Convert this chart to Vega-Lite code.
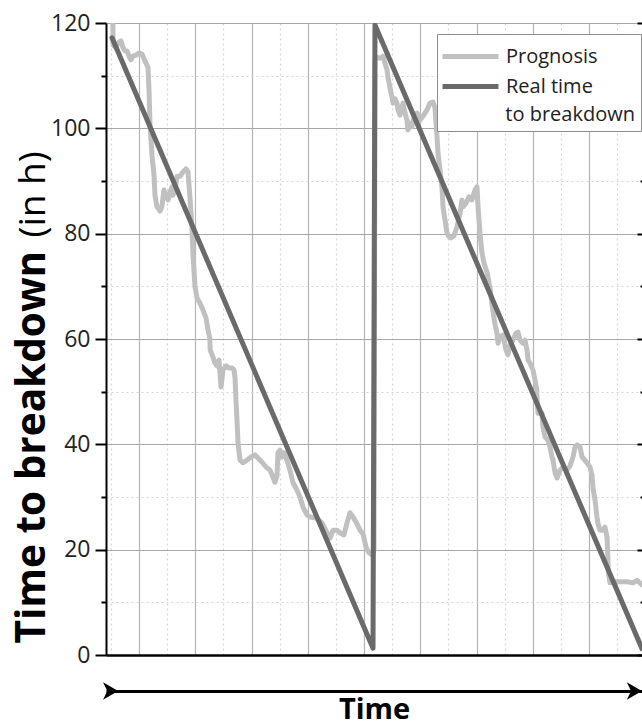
{
  "$schema": "https://vega.github.io/schema/vega-lite/v6.json",
  "autosize": "none",
  "width": 536,
  "height": 632,
  "padding": {"left": 106, "top": 23, "right": 0, "bottom": 72},
  "background": "white",
  "config": {
    "view": {"stroke": null},
    "font": "Open Sans"
  },
  "datasets": {
    "prog": [
      {"t":0.535,"v":120.0},{"t":0.540,"v":115.8},{"t":0.591,"v":115.3},{"t":0.627,"v":116.2},{"t":0.680,"v":116.6},{"t":0.715,"v":115.3},{"t":0.751,"v":114.7},{"t":0.787,"v":114.7},{"t":0.822,"v":113.7},{"t":0.858,"v":113.0},{"t":0.893,"v":113.7},{"t":0.947,"v":113.9},{"t":1.000,"v":114.3},{"t":1.053,"v":114.1},{"t":1.089,"v":113.2},{"t":1.142,"v":112.0},{"t":1.160,"v":111.5},{"t":1.178,"v":107.3},{"t":1.196,"v":100.6},{"t":1.231,"v":94.9},{"t":1.267,"v":91.1},{"t":1.284,"v":87.3},{"t":1.320,"v":85.1},{"t":1.373,"v":84.3},{"t":1.409,"v":85.3},{"t":1.444,"v":88.3},{"t":1.480,"v":87.2},{"t":1.516,"v":86.4},{"t":1.551,"v":87.9},{"t":1.587,"v":88.9},{"t":1.604,"v":87.3},{"t":1.640,"v":88.3},{"t":1.676,"v":90.9},{"t":1.729,"v":90.9},{"t":1.782,"v":91.7},{"t":1.835,"v":92.3},{"t":1.871,"v":91.7},{"t":1.907,"v":86.8},{"t":1.942,"v":81.1},{"t":1.960,"v":75.9},{"t":1.996,"v":69.9},{"t":2.031,"v":67.8},{"t":2.084,"v":66.8},{"t":2.138,"v":65.5},{"t":2.191,"v":64.0},{"t":2.227,"v":61.7},{"t":2.258,"v":60.2},{"t":2.266,"v":57.9},{"t":2.315,"v":56.6},{"t":2.351,"v":55.4},{"t":2.387,"v":54.9},{"t":2.422,"v":56.0},{"t":2.458,"v":50.9},{"t":2.493,"v":54.1},{"t":2.547,"v":54.9},{"t":2.600,"v":54.5},{"t":2.653,"v":54.5},{"t":2.689,"v":54.1},{"t":2.707,"v":52.6},{"t":2.724,"v":48.4},{"t":2.742,"v":44.6},{"t":2.760,"v":40.3},{"t":2.796,"v":37.0},{"t":2.849,"v":36.5},{"t":2.920,"v":37.0},{"t":2.991,"v":37.6},{"t":3.062,"v":38.0},{"t":3.116,"v":37.4},{"t":3.187,"v":36.6},{"t":3.258,"v":35.7},{"t":3.329,"v":35.1},{"t":3.382,"v":33.8},{"t":3.418,"v":32.8},{"t":3.453,"v":34.0},{"t":3.471,"v":38.4},{"t":3.507,"v":38.9},{"t":3.542,"v":37.6},{"t":3.578,"v":38.4},{"t":3.631,"v":37.0},{"t":3.684,"v":35.1},{"t":3.738,"v":32.7},{"t":3.809,"v":31.3},{"t":3.862,"v":30.0},{"t":3.916,"v":28.1},{"t":3.987,"v":26.6},{"t":4.040,"v":26.2},{"t":4.147,"v":26.0},{"t":4.253,"v":25.1},{"t":4.342,"v":23.2},{"t":4.396,"v":22.2},{"t":4.449,"v":23.7},{"t":4.520,"v":23.7},{"t":4.573,"v":23.2},{"t":4.644,"v":22.8},{"t":4.698,"v":25.1},{"t":4.751,"v":27.0},{"t":4.804,"v":26.2},{"t":4.876,"v":24.9},{"t":4.929,"v":23.7},{"t":4.982,"v":23.0},{"t":5.036,"v":20.5},{"t":5.089,"v":19.4},{"t":5.142,"v":19.0},{"t":5.178,"v":19.9},
      {"t":5.195,"v":113.0},{"t":5.231,"v":113.5},{"t":5.284,"v":113.3},{"t":5.338,"v":113.7},{"t":5.373,"v":112.4},{"t":5.409,"v":111.1},{"t":5.427,"v":109.6},{"t":5.462,"v":107.7},{"t":5.498,"v":105.9},{"t":5.516,"v":104.8},{"t":5.551,"v":105.6},{"t":5.587,"v":104.8},{"t":5.604,"v":103.5},{"t":5.640,"v":102.5},{"t":5.676,"v":104.0},{"t":5.693,"v":104.8},{"t":5.729,"v":102.9},{"t":5.764,"v":101.6},{"t":5.782,"v":99.7},{"t":5.818,"v":101.0},{"t":5.853,"v":100.3},{"t":5.889,"v":102.1},{"t":5.942,"v":102.9},{"t":5.996,"v":101.6},{"t":6.049,"v":102.3},{"t":6.120,"v":103.5},{"t":6.173,"v":104.8},{"t":6.227,"v":105.0},{"t":6.262,"v":103.9},{"t":6.298,"v":98.4},{"t":6.316,"v":95.3},{"t":6.351,"v":92.1},{"t":6.387,"v":88.7},{"t":6.404,"v":85.1},{"t":6.440,"v":82.6},{"t":6.476,"v":80.1},{"t":6.511,"v":79.4},{"t":6.547,"v":79.2},{"t":6.600,"v":79.6},{"t":6.653,"v":81.3},{"t":6.707,"v":83.9},{"t":6.742,"v":86.4},{"t":6.760,"v":85.1},{"t":6.813,"v":85.8},{"t":6.867,"v":87.0},{"t":6.920,"v":86.4},{"t":6.973,"v":88.3},{"t":7.009,"v":88.9},{"t":7.027,"v":85.1},{"t":7.062,"v":80.1},{"t":7.098,"v":76.3},{"t":7.133,"v":74.4},{"t":7.187,"v":72.7},{"t":7.240,"v":69.7},{"t":7.276,"v":66.5},{"t":7.311,"v":64.0},{"t":7.329,"v":62.8},{"t":7.364,"v":61.1},{"t":7.382,"v":59.2},{"t":7.418,"v":60.4},{"t":7.471,"v":60.8},{"t":7.524,"v":57.9},{"t":7.560,"v":57.0},{"t":7.596,"v":58.7},{"t":7.649,"v":59.8},{"t":7.702,"v":61.1},{"t":7.738,"v":61.3},{"t":7.773,"v":59.8},{"t":7.827,"v":59.2},{"t":7.862,"v":59.8},{"t":7.898,"v":57.9},{"t":7.916,"v":56.0},{"t":7.951,"v":55.4},{"t":8.004,"v":54.1},{"t":8.040,"v":52.2},{"t":8.072,"v":50.3},{"t":8.080,"v":47.8},{"t":8.093,"v":45.9},{"t":8.164,"v":45.9},{"t":8.182,"v":43.3},{"t":8.218,"v":41.4},{"t":8.271,"v":40.8},{"t":8.307,"v":39.5},{"t":8.342,"v":37.6},{"t":8.360,"v":37.0},{"t":8.396,"v":34.6},{"t":8.431,"v":33.6},{"t":8.484,"v":35.1},{"t":8.538,"v":35.7},{"t":8.609,"v":35.1},{"t":8.662,"v":35.9},{"t":8.716,"v":37.6},{"t":8.751,"v":39.5},{"t":8.787,"v":39.9},{"t":8.840,"v":39.5},{"t":8.876,"v":37.6},{"t":8.964,"v":36.5},{"t":9.018,"v":35.7},{"t":9.053,"v":34.2},{"t":9.071,"v":31.7},{"t":9.107,"v":29.4},{"t":9.142,"v":26.2},{"t":9.160,"v":24.9},{"t":9.196,"v":23.7},{"t":9.249,"v":23.7},{"t":9.284,"v":24.3},{"t":9.320,"v":22.4},{"t":9.334,"v":19.0},{"t":9.342,"v":15.8},{"t":9.373,"v":13.7},{"t":9.462,"v":13.9},{"t":9.551,"v":13.9},{"t":9.676,"v":13.9},{"t":9.782,"v":13.7},{"t":9.853,"v":14.2},{"t":9.942,"v":13.3}
    ],
    "real": [
      {"t":0.520,"v":117.2},{"t":5.160,"v":1.3},{"t":5.195,"v":119.6},{"t":9.942,"v":1.2}
    ]
  },
  "layer": [
    {
      "data": {"name": "prog"},
      "mark": {"type": "line", "strokeWidth": 5, "strokeJoin": "round", "strokeCap": "round", "clip": true},
      "encoding": {
        "x": {
          "field": "t", "type": "quantitative",
          "scale": {"domain": [0.4133, 9.942], "nice": false, "zero": false},
          "axis": {
            "orient": "bottom",
            "values": [0.5,1,1.5,2,2.5,3,3.5,4,4.5,5,5.5,6,6.5,7,7.5,8,8.5,9,9.5],
            "grid": true,
            "gridColor": {"condition": {"test": "datum.value % 1 === 0", "value": "#b4b4b4"}, "value": "#d6d6d6"},
            "gridDash": {"condition": {"test": "datum.value % 1 === 0", "value": []}, "value": [2, 3]},
            "gridWidth": 1.2,
            "domain": false, "ticks": false, "labels": false, "title": null
          }
        },
        "y": {
          "field": "v", "type": "quantitative",
          "scale": {"domain": [0, 120], "nice": false},
          "axis": {
            "orient": "left",
            "values": [0,10,20,30,40,50,60,70,80,90,100,110,120],
            "labelExpr": "datum.value % 20 === 0 ? datum.label : ''",
            "labelFont": "Open Sans", "labelFontSize": 23, "labelColor": "#222222",
            "labelPadding": 5,
            "tickSize": {"condition": {"test": "datum.value % 20 === 0", "value": 11}, "value": 5},
            "tickColor": "#000000", "tickWidth": 2,
            "domain": true, "domainColor": "#000000", "domainWidth": 2,
            "grid": true,
            "gridColor": {"condition": {"test": "datum.value % 20 === 0", "value": "#a8a8a8"}, "value": "#d6d6d6"},
            "gridDash": {"condition": {"test": "datum.value % 20 === 0", "value": []}, "value": [2, 3]},
            "gridWidth": 1.2,
            "title": "Time to breakdown",
            "titleFont": "Open Sans", "titleFontWeight": "bold", "titleFontSize": 40.5, "titleColor": "#000000",
            "titleAngle": 270, "titleX": -62, "titleY": 620, "titleAlign": "left", "titleBaseline": "alphabetic"
          }
        },
        "color": {
          "datum": "Prognosis", "type": "nominal",
          "scale": {"domain": ["Prognosis", "Real time to breakdown"], "range": ["#c0c0c0", "#6a6a6a"]},
          "legend": {
            "orient": "none", "legendX": 331, "legendY": 11,
            "title": "\u200b\u00a0\u00a0\u00a0\u00a0\u00a0\u00a0\u00a0\u00a0\u00a0\u00a0\u00a0\u00a0to breakdown",
            "titleOrient": "bottom", "titleAnchor": "start", "titleAlign": "left", "titleLimit": 400,
            "titleFont": "Open Sans", "titleFontWeight": "normal", "titleFontSize": 20, "titleColor": "#222222",
            "titlePadding": 8,
            "symbolType": "M -2 0 L 2 0", "symbolSize": 784, "symbolStrokeWidth": 5, "symbolOffset": 11,
            "labelFont": "Open Sans", "labelFontSize": 20, "labelColor": "#222222",
            "labelExpr": "datum.label == 'Real time to breakdown' ? 'Real time' : datum.label",
            "labelOffset": 19, "rowPadding": 3, "labelLimit": 300,
            "strokeColor": "#8c8c8c", "fillColor": "#ffffff", "padding": 6
          }
        }
      }
    },
    {
      "data": {"name": "real"},
      "mark": {"type": "line", "strokeWidth": 5, "strokeJoin": "round", "strokeCap": "round", "clip": true},
      "encoding": {
        "x": {
          "field": "t", "type": "quantitative",
          "axis": {"orient": "bottom", "domain": true, "domainColor": "#000000", "domainWidth": 2.5, "ticks": false, "labels": false, "grid": false, "title": null}
        },
        "y": {
          "field": "v", "type": "quantitative",
          "axis": {
            "orient": "left", "labels": false, "ticks": false, "domain": false, "grid": false,
            "title": "(in h)",
            "titleFont": "Open Sans", "titleFontWeight": "normal", "titleFontSize": 37, "titleColor": "#000000",
            "titleAngle": 270, "titleX": -62, "titleY": 214, "titleAlign": "left", "titleBaseline": "alphabetic"
          }
        },
        "color": {"datum": "Real time to breakdown", "type": "nominal"}
      }
    },
    {
      "data": {"values": [{}]},
      "mark": {"type": "point", "shape": "M 0.85 0 L -0.9 -1 L -0.4 0 L -0.9 1 Z", "filled": true, "color": "#000000", "opacity": 1, "size": 300},
      "encoding": {
        "x": {
          "datum": 0.4986, "type": "quantitative",
          "axis": {
            "orient": "bottom", "offset": 36, "domain": true, "domainColor": "#000000", "domainWidth": 3,
            "ticks": false, "labels": false, "grid": false,
            "title": "Time", "titleFont": "Open Sans", "titleFontWeight": "bold", "titleFontSize": 29, "titleColor": "#000000",
            "titleY": 27, "titleBaseline": "alphabetic"
          }
        },
        "y": {
          "datum": -6.84, "type": "quantitative",
          "axis": {
            "orient": "right",
            "values": [0,10,20,30,40,50,60,70,80,90,100,110,120],
            "labels": false, "domain": false, "grid": false, "title": null,
            "tickSize": {"condition": {"test": "datum.value % 20 === 0", "value": -5}, "value": -2},
            "tickColor": "#000000", "tickWidth": 2
          }
        }
      }
    },
    {
      "data": {"values": [{}]},
      "mark": {"type": "point", "shape": "M 0.85 0 L -0.9 -1 L -0.4 0 L -0.9 1 Z", "filled": true, "color": "#000000", "opacity": 1, "size": 300},
      "encoding": {
        "x": {"datum": 9.81, "type": "quantitative", "axis": null},
        "y": {"datum": -6.84, "type": "quantitative", "axis": null}
      }
    }
  ],
  "resolve": {"axis": {"x": "independent", "y": "independent"}}
}
